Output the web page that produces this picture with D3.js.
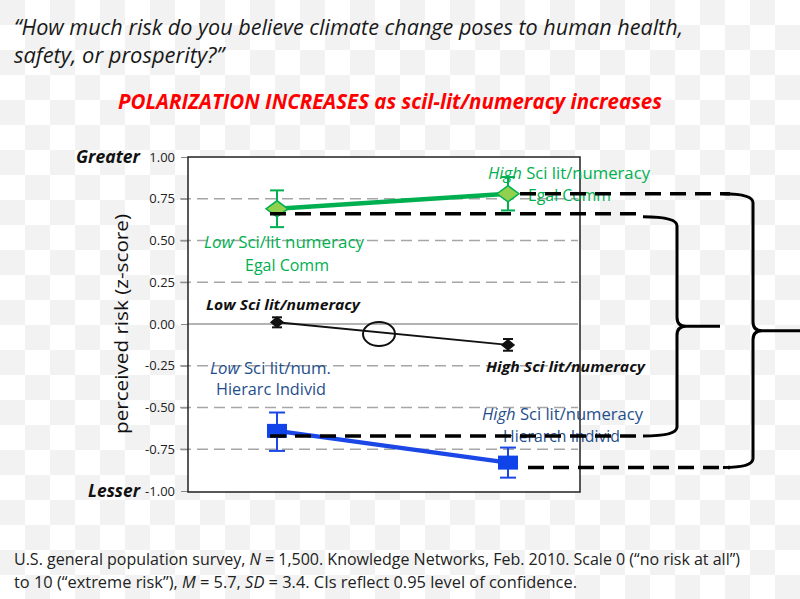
<!DOCTYPE html>
<html><head><meta charset="utf-8">
<script src="https://cdn.jsdelivr.net/npm/d3@7"></script>
<style>body{margin:0;background:#fff} svg{display:block}</style>
</head><body><svg id="c" width="800" height="599"></svg>
<script>
// ---------- data ----------
const categories = ["Low", "High"];
const egalMean = [0.69, 0.78];
const egalLo = [0.58, 0.68];
const egalHi = [0.80, 0.88];
const allMean = [0.01, -0.125];
const allLo = [-0.02, -0.16];
const allHi = [0.04, -0.09];
const hierMean = [-0.64, -0.83];
const hierLo = [-0.76, -0.92];
const hierHi = [-0.53, -0.74];
const yTicks = [1, 0.75, 0.5, 0.25, 0, -0.25, -0.5, -0.75, -1];
const gridValues = [0.75, 0.5, 0.25, -0.25, -0.5, -0.75];
const gapLow = [0.66, -0.67];   // low sci-lit gap levels (egal, hier)
const gapHigh = [0.78, -0.86];  // high sci-lit gap levels (egal, hier)

// ---------- layout ----------
const svg = d3.select("#c");
const X0 = 188, X1 = 580, YT = 157, YB = 491;
const y = d3.scaleLinear().domain([-1, 1]).range([YB, YT]);
const x = d3.scalePoint().domain(categories).range([277, 508]);
const FONT = "'Open Sans', 'Noto Sans', sans-serif";

// background checker
const defs = svg.append("defs");
const pat = defs.append("pattern").attr("id", "chk").attr("width", 50).attr("height", 50).attr("patternUnits", "userSpaceOnUse");
pat.append("rect").attr("width", 50).attr("height", 50).attr("fill", "#ffffff");
pat.append("rect").attr("width", 25).attr("height", 25).attr("fill", "#f2f2f2");
pat.append("rect").attr("x", 25).attr("y", 25).attr("width", 25).attr("height", 25).attr("fill", "#f2f2f2");
svg.append("rect").attr("width", 800).attr("height", 599).attr("fill", "url(#chk)");
svg.append("rect").attr("x", X0).attr("y", YT).attr("width", X1 - X0).attr("height", YB - YT).attr("fill", "#fff");

// text helper
function addText(parts, opt) {
  const t = svg.append("text")
    .attr("x", opt.x).attr("y", opt.y)
    .attr("font-family", FONT)
    .attr("font-size", opt.size)
    .attr("fill", opt.color || "#222")
    .attr("font-weight", opt.bold ? "bold" : "normal")
    .attr("font-style", opt.italic ? "italic" : "normal")
    .attr("text-anchor", opt.anchor || "start");
  if (opt.rotate) t.attr("transform", `rotate(${opt.rotate},${opt.x},${opt.y})`);
  parts.forEach(p => {
    const s = t.append("tspan").text(typeof p === "string" ? p : p.t);
    if (p.i) s.attr("font-style", "italic");
    if (p.b) s.attr("font-weight", "bold");
  });
  if (opt.w) t.attr("textLength", opt.w).attr("lengthAdjust", "spacingAndGlyphs");
  return t;
}

// gridlines
svg.append("g").selectAll("line").data(gridValues).join("line")
  .attr("x1", 180).attr("x2", 578)
  .attr("y1", d => y(d)).attr("y2", d => y(d))
  .attr("stroke", "#a6a6a6").attr("stroke-width", 1.5).attr("stroke-dasharray", "11,6");

// y axis
const axis = svg.append("g").attr("transform", `translate(${X0},0)`)
  .call(d3.axisLeft(y).tickValues(yTicks).tickSize(7).tickPadding(6).tickFormat(d => d.toFixed(2)));
axis.select(".domain").remove();
axis.selectAll(".tick line").attr("stroke", "#888");
axis.selectAll(".tick text").attr("font-family", FONT).attr("font-size", 13).attr("fill", "#222");

// zero line
svg.append("line").attr("x1", X0).attr("x2", 578).attr("y1", y(0)).attr("y2", y(0))
  .attr("stroke", "#9a9a9a").attr("stroke-width", 1.5);

// plot frame
svg.append("path").attr("d", `M${X0},${YT}H${X1}V${YB + 1}H${X0}Z`)
  .attr("fill", "none").attr("stroke", "#222").attr("stroke-width", 1.5);

// labels (text under the dashed reference lines)
addText([{t: "Low", i: true}, "  Sci/lit numeracy"], {x: 204, y: 248, size: 16.5, color: "#00b050", w: 160});
addText(["Egal Comm"], {x: 245, y: 271, size: 16.5, color: "#00b050", w: 84});
addText([{t: "High", i: true}, " Sci lit/numeracy"], {x: 488, y: 179, size: 16.5, color: "#00b050", w: 162});
addText(["Egal Comm"], {x: 528, y: 201, size: 16.5, color: "#00b050", w: 83});
addText(["Low Sci lit/numeracy"], {x: 206, y: 310, size: 15, bold: true, italic: true, color: "#111", w: 154});
addText(["High Sci lit/numeracy"], {x: 486, y: 372, size: 15, bold: true, italic: true, color: "#111", w: 159});
addText([{t: "Low", i: true}, " Sci lit/num."], {x: 210, y: 374, size: 16.5, color: "#1f4e8c", w: 121});
addText(["Hierarc Individ"], {x: 216, y: 395, size: 16.5, color: "#1f4e8c", w: 110});
addText([{t: "High", i: true}, " Sci lit/numeracy"], {x: 482, y: 420, size: 16.5, color: "#1f4e8c", w: 161});
addText(["Hierarch Individ"], {x: 503, y: 442, size: 16.5, color: "#1f4e8c", w: 117});

// series drawing
function series(mean, lo, hi, color, lw, marker) {
  const g = svg.append("g");
  const pts = categories.map((c, i) => [x(c), y(mean[i])]);
  g.append("path").attr("d", d3.line()(pts)).attr("fill", "none").attr("stroke", color).attr("stroke-width", lw);
  categories.forEach((c, i) => {
    const cx = x(c);
    g.append("line").attr("x1", cx).attr("x2", cx).attr("y1", y(lo[i])).attr("y2", y(hi[i])).attr("stroke", color).attr("stroke-width", 2);
    [lo[i], hi[i]].forEach(v => g.append("line").attr("x1", cx - marker.cap).attr("x2", cx + marker.cap)
      .attr("y1", y(v)).attr("y2", y(v)).attr("stroke", color).attr("stroke-width", 2));
  });
  categories.forEach((c, i) => {
    const cx = x(c), cy = y(mean[i]);
    if (marker.type === "diamond") {
      g.append("path").attr("d", `M${cx - marker.w},${cy}L${cx},${cy - marker.h}L${cx + marker.w},${cy}L${cx},${cy + marker.h}Z`)
        .attr("fill", marker.fill).attr("stroke", marker.stroke).attr("stroke-width", 1.5);
    } else {
      g.append("rect").attr("x", cx - marker.w).attr("y", cy - marker.h).attr("width", 2 * marker.w).attr("height", 2 * marker.h)
        .attr("fill", marker.fill);
    }
  });
}
series(egalMean, egalLo, egalHi, "#00b050", 4.5, {type: "diamond", w: 11, h: 8, fill: "#92d050", stroke: "#00b050", cap: 7});
series(allMean, allLo, allHi, "#111", 2, {type: "diamond", w: 6, h: 5, fill: "#111", stroke: "#111", cap: 5});
series(hierMean, hierLo, hierHi, "#1a47e6", 4.5, {type: "square", w: 10, h: 7, fill: "#1144e8", cap: 8});

// circle at crossing
svg.append("ellipse").attr("cx", 379).attr("cy", 334).attr("rx", 16).attr("ry", 12)
  .attr("fill", "none").attr("stroke", "#111").attr("stroke-width", 2);

// dashed gap lines
function dline(x1, x2, v) {
  svg.append("line").attr("x1", x1).attr("x2", x2).attr("y1", y(v)).attr("y2", y(v))
    .attr("stroke", "#000").attr("stroke-width", 3.5).attr("stroke-dasharray", "16,9");
}
dline(270, 640, gapLow[0]);
dline(270, 640, gapLow[1]);
dline(520, 730, gapHigh[0]);
dline(528, 730, gapHigh[1]);

// braces
function brace(x0, xv, yt, yb, xt, r) {
  const ym = (yt + yb) / 2;
  const d = `M${x0},${yt} Q${xv},${yt} ${xv},${yt + r} L${xv},${ym - r} Q${xv},${ym} ${xv + r},${ym} L${xt},${ym}` +
            ` M${xv + r},${ym} Q${xv},${ym} ${xv},${ym + r} L${xv},${yb - r} Q${xv},${yb} ${x0},${yb}`;
  svg.append("path").attr("d", d).attr("fill", "none").attr("stroke", "#000").attr("stroke-width", 3);
}
brace(643, 677, y(gapLow[0]) + 3, y(gapLow[1]), 720, 9);
brace(723, 753, y(gapHigh[0]), y(gapHigh[1]), 800, 9);

// axis titles
addText(["perceived risk (z-score)"], {x: 128, y: 324, size: 18, anchor: "middle", rotate: -90, color: "#111", w: 220});
addText(["Greater"], {x: 140, y: 163, size: 17, bold: true, italic: true, anchor: "end", color: "#111", w: 64});
addText(["Lesser"], {x: 140, y: 497, size: 17, bold: true, italic: true, anchor: "end", color: "#111", w: 52});

// titles
addText(["“How much risk do you believe climate change poses to human health,"], {x: 14, y: 35, size: 21, italic: true, color: "#1a1a1a", w: 669});
addText(["safety, or prosperity?”"], {x: 14, y: 63, size: 21, italic: true, color: "#1a1a1a", w: 210});
addText(["POLARIZATION INCREASES as scil-lit/numeracy increases"], {x: 118, y: 109, size: 21, bold: true, italic: true, color: "#ff0000", w: 544});

// footer
addText(["U.S. general population survey, ", {t: "N", i: true}, " = 1,500. Knowledge Networks, Feb. 2010. Scale 0 (“no risk at all”)"],
  {x: 14, y: 565, size: 16, color: "#222", w: 726});
addText(["to 10 (“extreme risk”), ", {t: "M", i: true}, " = 5.7, ", {t: "SD", i: true}, " = 3.4. CIs reflect 0.95 level of confidence."],
  {x: 14, y: 588, size: 16, color: "#222", w: 563});
</script></body></html>
